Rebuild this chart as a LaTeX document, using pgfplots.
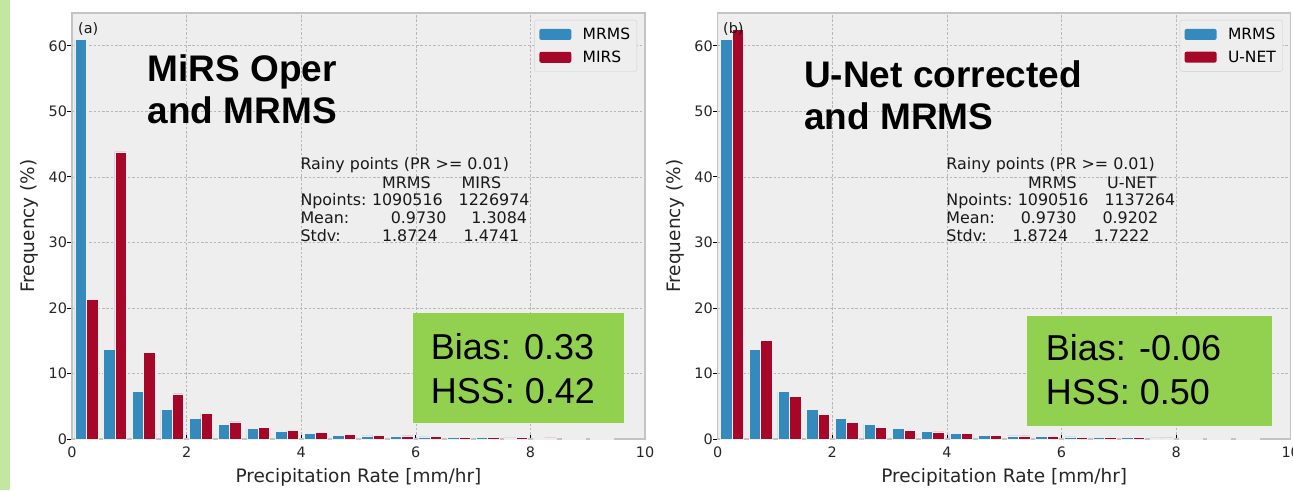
\documentclass[border=0pt]{standalone}
\usepackage{pgfplots}
\pgfplotsset{compat=1.18}
\usepackage{fontspec}
\setmainfont{DejaVu Sans}
\newfontfamily\arial{Liberation Sans}
\definecolor{mblue}{HTML}{348ABD}
\definecolor{mred}{HTML}{A60628}
\definecolor{bg}{HTML}{EEEEEE}
\definecolor{gridc}{HTML}{B8B8B8}
\definecolor{spine}{HTML}{C4C4C4}
\definecolor{boxg}{HTML}{92D050}
\definecolor{strip}{HTML}{C3E6A1}
\definecolor{legc}{HTML}{D0D0D0}

\pgfplotsset{
 histax/.style={
  scale only axis, width=573pt, height=426pt,
  anchor=south west,
  xmin=0, xmax=10, ymin=0, ymax=65,
  xtick={0,2,4,6,8,10}, ytick={0,10,20,30,40,50,60},
  tick pos=left, tick align=inside,
  major tick length=4.5pt,
  tick style={black, line width=0.8pt},
  ytick style={xshift=-4.5pt},
  axis background/.style={fill=bg},
  axis line style={draw=spine, line width=1.4pt},
  grid=major,
  major grid style={draw=gridc, line width=0.6pt, dash pattern=on 2.5pt off 1.8pt},
  /pgf/number format/assume math mode=true,
  ticklabel style={font=\fontsize{14.4}{16}\selectfont, text=black!85},
  xticklabel style={yshift=-4.5pt},
  yticklabel style={xshift=-1.5pt},
  xlabel={Precipitation Rate [mm/hr]},
  ylabel={Frequency (\%)},
  every axis x label/.style={at={(axis description cs:0.5,-0.1026)}, anchor=base,
     font=\fontsize{18.5}{20}\selectfont, text=black!85},
  every axis y label/.style={at={(axis description cs:-0.0646,0.5)}, rotate=90, anchor=base,
     font=\fontsize{18.5}{20}\selectfont, text=black!85},
  legend style={at={(1,1)}, anchor=north east, xshift=-8pt, yshift=-7pt,
    font=\fontsize{15.5}{17}\selectfont, fill=bg, draw=legc, rounded corners=2pt,
    inner xsep=4.7pt, inner ysep=5.75pt, row sep=5.8pt,
    /tikz/every odd column/.append style={column sep=9.4pt},
    cells={anchor=west}},
  legend image code/.code={\fill[##1, draw=none] (0pt,-5.5pt) rectangle (32pt,5.5pt);},
 },
 mbar/.style={ybar, bar width=0.2, bar shift=0pt, fill=mblue, draw=bg, line width=0.5pt},
 rbar/.style={ybar, bar width=0.2, bar shift=0pt, fill=mred, draw=bg, line width=0.5pt},
}

\begin{document}
\begin{tikzpicture}
\useasboundingbox (0,0) rectangle (1293pt,490pt);
\fill[white] (0,0) rectangle (1293pt,490pt);
\fill[strip] (0,0) rectangle (10pt,490pt);

% ---------------- left panel ----------------
\begin{axis}[histax, at={(72pt,51pt)}]
\addplot[mbar] coordinates {
(0.15,61.0) (0.65,13.7) (1.15,7.26) (1.65,4.5) (2.15,3.1) (2.65,2.18) (3.15,1.57) (3.65,1.16) (4.15,0.88) (4.65,0.61)
(5.15,0.46) (5.65,0.41) (6.15,0.34) (6.65,0.25) (7.15,0.21) (7.65,0.18) (8.15,0.15) (8.65,0.12) (9.15,0.08)};
\addlegendentry{MRMS}
\addplot[rbar] coordinates {
(0.35,21.3) (0.85,43.8) (1.35,13.2) (1.85,6.9) (2.35,3.9) (2.85,2.6) (3.35,1.77) (3.85,1.31) (4.35,1.05) (4.85,0.76)
(5.35,0.56) (5.85,0.46) (6.35,0.4) (6.85,0.3) (7.35,0.24) (7.85,0.22) (8.35,0.16) (8.85,0.12) (9.35,0.05)};
\addlegendentry{MIRS}
\end{axis}

% ---------------- right panel ----------------
\begin{axis}[histax, at={(717.7pt,51pt)}]
\addplot[mbar] coordinates {
(0.15,61.0) (0.65,13.7) (1.15,7.26) (1.65,4.5) (2.15,3.1) (2.65,2.18) (3.15,1.57) (3.65,1.16) (4.15,0.88) (4.65,0.61)
(5.15,0.46) (5.65,0.41) (6.15,0.34) (6.65,0.25) (7.15,0.21) (7.65,0.18) (8.15,0.15) (8.65,0.12) (9.15,0.08)};
\addlegendentry{MRMS}
\addplot[rbar] coordinates {
(0.35,62.5) (0.85,15.0) (1.35,6.55) (1.85,3.8) (2.35,2.53) (2.85,1.77) (3.35,1.37) (3.85,1.07) (4.35,0.83) (4.85,0.6)
(5.35,0.46) (5.85,0.38) (6.35,0.3) (6.85,0.23) (7.35,0.2) (7.85,0.17) (8.35,0.13) (8.85,0.1) (9.35,0.07)};
\addlegendentry{U-NET}
\end{axis}

% ---------------- annotations ----------------
\tikzset{ann/.style={inner sep=0pt, anchor=base west, text=black!90},
         st/.style={ann, font=\fontsize{15.9}{17}\selectfont},
         ttl/.style={ann, text=black, font=\arial\bfseries\fontsize{37}{40}\selectfont},
         bs/.style={ann, text=black, font=\arial\fontsize{36}{40}\selectfont}}

\node[ann, font=\fontsize{14.4}{16}\selectfont] at (78pt,456.7pt) {(a)};
\node[ann, font=\fontsize{14.4}{16}\selectfont] at (723pt,456.7pt) {(b)};

\node[ttl] at (147.5pt,408.3pt) {MiRS Oper};
\node[ttl] at (147.5pt,366.7pt) {and MRMS};
\node[ttl] at (804pt,402.7pt) {U-Net corrected};
\node[ttl] at (804pt,360.7pt) {and MRMS};

% stats left
\node[st] at (300.3pt,320pt) {Rainy points (PR >= 0.01)};
\node[st] at (382pt,301.7pt) {MRMS};
\node[st] at (461.5pt,301.7pt) {MIRS};
\node[st] at (300.3pt,284pt) {Npoints:};
\node[st] at (371.8pt,284pt) {1090516};
\node[st] at (458.5pt,284pt) {1226974};
\node[st] at (300.3pt,266pt) {Mean:};
\node[st] at (390.6pt,266pt) {0.9730};
\node[st] at (471.2pt,266pt) {1.3084};
\node[st] at (300.3pt,248pt) {Stdv:};
\node[st] at (381.8pt,248pt) {1.8724};
\node[st] at (463.5pt,248pt) {1.4741};

% stats right
\node[st] at (946.2pt,320pt) {Rainy points (PR >= 0.01)};
\node[st] at (1028pt,301.7pt) {MRMS};
\node[st] at (1107pt,301.7pt) {U-NET};
\node[st] at (946.2pt,284pt) {Npoints:};
\node[st] at (1017.6pt,284pt) {1090516};
\node[st] at (1104.3pt,284pt) {1137264};
\node[st] at (946.2pt,266pt) {Mean:};
\node[st] at (1020.6pt,266pt) {0.9730};
\node[st] at (1102.3pt,266pt) {0.9202};
\node[st] at (946.2pt,248pt) {Stdv:};
\node[st] at (1012.3pt,248pt) {1.8724};
\node[st] at (1093.6pt,248pt) {1.7222};

% green boxes
\fill[boxg] (412.7pt,67.3pt) rectangle (624pt,177.3pt);
\node[bs] at (430.6pt,130.7pt) {Bias: 0.33};
\node[bs] at (430.6pt,86.7pt) {HSS: 0.42};
\fill[boxg] (1027pt,64.3pt) rectangle (1272pt,174pt);
\node[bs] at (1045.6pt,129.3pt) {Bias: -0.06};
\node[bs] at (1045.6pt,85.7pt) {HSS: 0.50};
\end{tikzpicture}
\end{document}
